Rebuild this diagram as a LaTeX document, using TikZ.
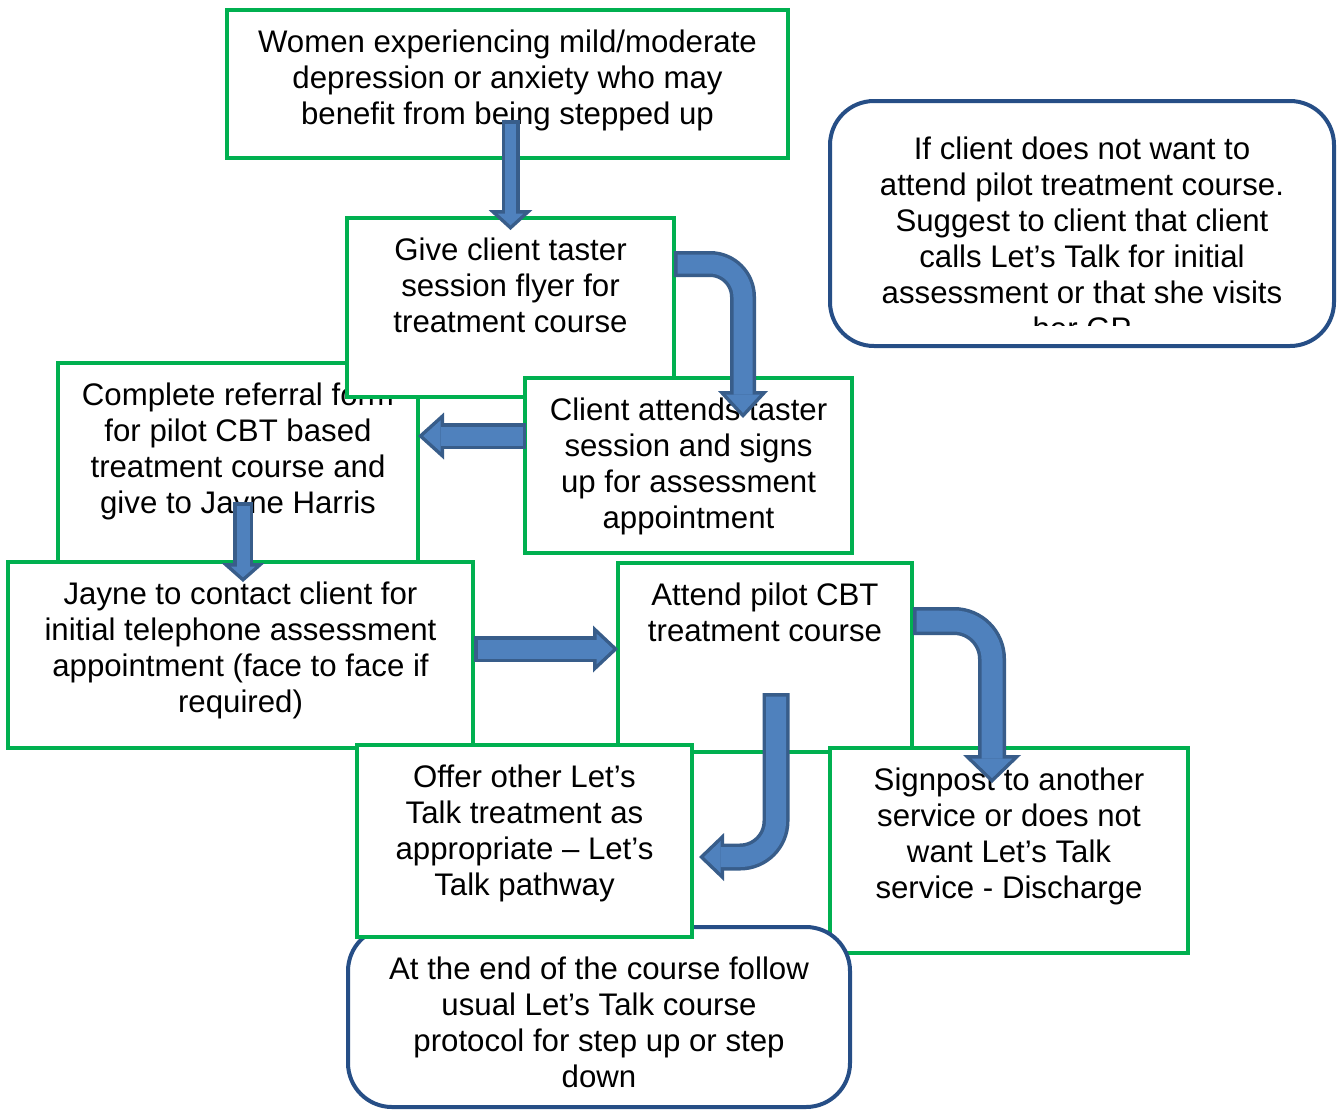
\documentclass[tikz,border=0pt]{standalone}
\usepackage{fontspec}
\setmainfont{Liberation Sans}
\usetikzlibrary{positioning,calc,arrows.meta}

\definecolor{boxgreen}{HTML}{00B050}
\definecolor{noteblue}{HTML}{264E86}
\definecolor{arrowfill}{HTML}{4F81BD}
\definecolor{arrowline}{HTML}{385D8A}

% fat arrow: [extra] shaft, head width, head length, path
\newcommand{\blockarrow}[5][]{%
  \pgfmathsetmacro{\arrangle}{atan((#3/2)/#4)}%
  \pgfmathsetmacro{\tipinset}{3.5/sin(\arrangle)}%
  \pgfmathsetmacro{\innerlen}{#4-3.5-\tipinset}%
  \pgfmathsetmacro{\innerwidth}{#3*\innerlen/#4}%
  \pgfmathsetmacro{\innershaft}{#2-7}%
  \draw[draw=arrowline, line width=#2pt, #1,
        -{Triangle[width=#3pt,length=#4pt,line width=0pt]}] #5;
  \draw[draw=arrowfill, line width=\innershaft pt, #1,
        shorten <=3.5pt, shorten >=\tipinset pt,
        -{Triangle[width=\innerwidth pt,length=\innerlen pt,line width=0pt]}] #5;
}

\begin{document}
\begin{tikzpicture}[x=1pt,y=-1pt,
    box/.style={draw=boxgreen, line width=4pt, fill=white, inner sep=0pt},
    note/.style={draw=noteblue, line width=4pt, fill=white, rounded corners=44pt, inner sep=0pt},
    txt/.style={align=center, inner sep=0pt, font=\fontsize{31.2}{36}\selectfont}]
\useasboundingbox (0,0) rectangle (1340,1109);

% boxes, back to front
\node[box, minimum width=561pt, minimum height=148pt] (women) at (507.5,84) {};
\node[txt, below=21.5pt of women.north] (womentext)
  {Women experiencing mild/moderate\\depression or anxiety who may\\benefit from being stepped up};

\node[box, minimum width=360pt, minimum height=199pt] (referral) at (238,462.5) {};
\node[txt, below=21.5pt of referral.north] (referraltext)
  {Complete referral form\\for pilot CBT based\\treatment course and\\give to Jayne Harris};

\node[box, minimum width=327pt, minimum height=179pt] (flyer) at (510.5,307.5) {};
\node[txt, below=21.5pt of flyer.north] (flyertext)
  {Give client taster\\session flyer for\\treatment course};

\node[box, minimum width=327pt, minimum height=175pt] (attends) at (688.5,465.5) {};
\node[txt, below=21.5pt of attends.north] (attendstext)
  {Client attends taster\\session and signs\\up for assessment\\appointment};

\node[box, minimum width=465pt, minimum height=186pt] (phone) at (240.5,655) {};
\node[txt, below=21.5pt of phone.north] (phonetext)
  {Jayne to contact client for\\initial telephone assessment\\appointment (face to face if\\required)};

\node[box, minimum width=294pt, minimum height=189pt] (course) at (765,657.5) {};
\node[txt, below=21.5pt of course.north] (coursetext)
  {Attend pilot CBT\\treatment course};

\node[box, minimum width=358pt, minimum height=205pt] (signpost) at (1009,850.5) {};
\node[txt, below=21.5pt of signpost.north] (signposttext)
  {Signpost to another\\service or does not\\want Let’s Talk\\service - Discharge};

\node[note, minimum width=502pt, minimum height=180pt] (endcourse) at (599,1017) {};
\node[txt, below=32pt of endcourse.north] (endcoursetext)
  {At the end of the course follow\\usual Let’s Talk course\\protocol for step up or step\\down};

\node[box, minimum width=335pt, minimum height=192pt] (offer) at (524.5,841) {};
\node[txt, below=21.5pt of offer.north] (offertext)
  {Offer other Let’s\\Talk treatment as\\appropriate – Let’s\\Talk pathway};

\node[note, minimum width=504pt, minimum height=245pt] (notattend) at (1082,223.5) {};
\begin{scope}
  \clip ($(notattend.north west)+(10,10)$) rectangle ($(notattend.south east)+(-10,-23)$);
  \node[txt, below=38pt of notattend.north] (notattendtext)
    {If client does not want to\\attend pilot treatment course.\\Suggest to client that client\\calls Let’s Talk for initial\\assessment or that she visits\\her GP};
\end{scope}

% fat arrows on top
\blockarrow{18}{44}{20}{($(flyer.north)+(0,-96)$) -- ($(flyer.north)+(0,14)$)}
\blockarrow[rounded corners=33pt]{26}{50}{27}{($(flyer.east)+(-2,-43.5)$) -| ($(attends.north)+(54.5,42)$)}
\blockarrow{26}{47}{26}{($(attends.west)+(3,-29.5)$) -- ($(referral.east)+(-2,-26.5)$)}
\blockarrow{20}{43}{19}{($(phone.north)+(2.5,-58)$) -- ($(phone.north)+(2.5,22)$)}
\blockarrow{26}{47}{25}{($(phone.east)+(-1,-6)$) -- ($(course.west)+(2,-8.5)$)}
\blockarrow[rounded corners=38pt]{28}{58}{28}{($(course.east)+(-1,-36.5)$) -| ($(signpost.north)+(-17,37)$)}
\blockarrow[rounded corners=36pt]{27}{48}{25}{($(course.south)+(11,-61)$) |- ($(offer.east)+(5,16)$)}
\end{tikzpicture}
\end{document}
